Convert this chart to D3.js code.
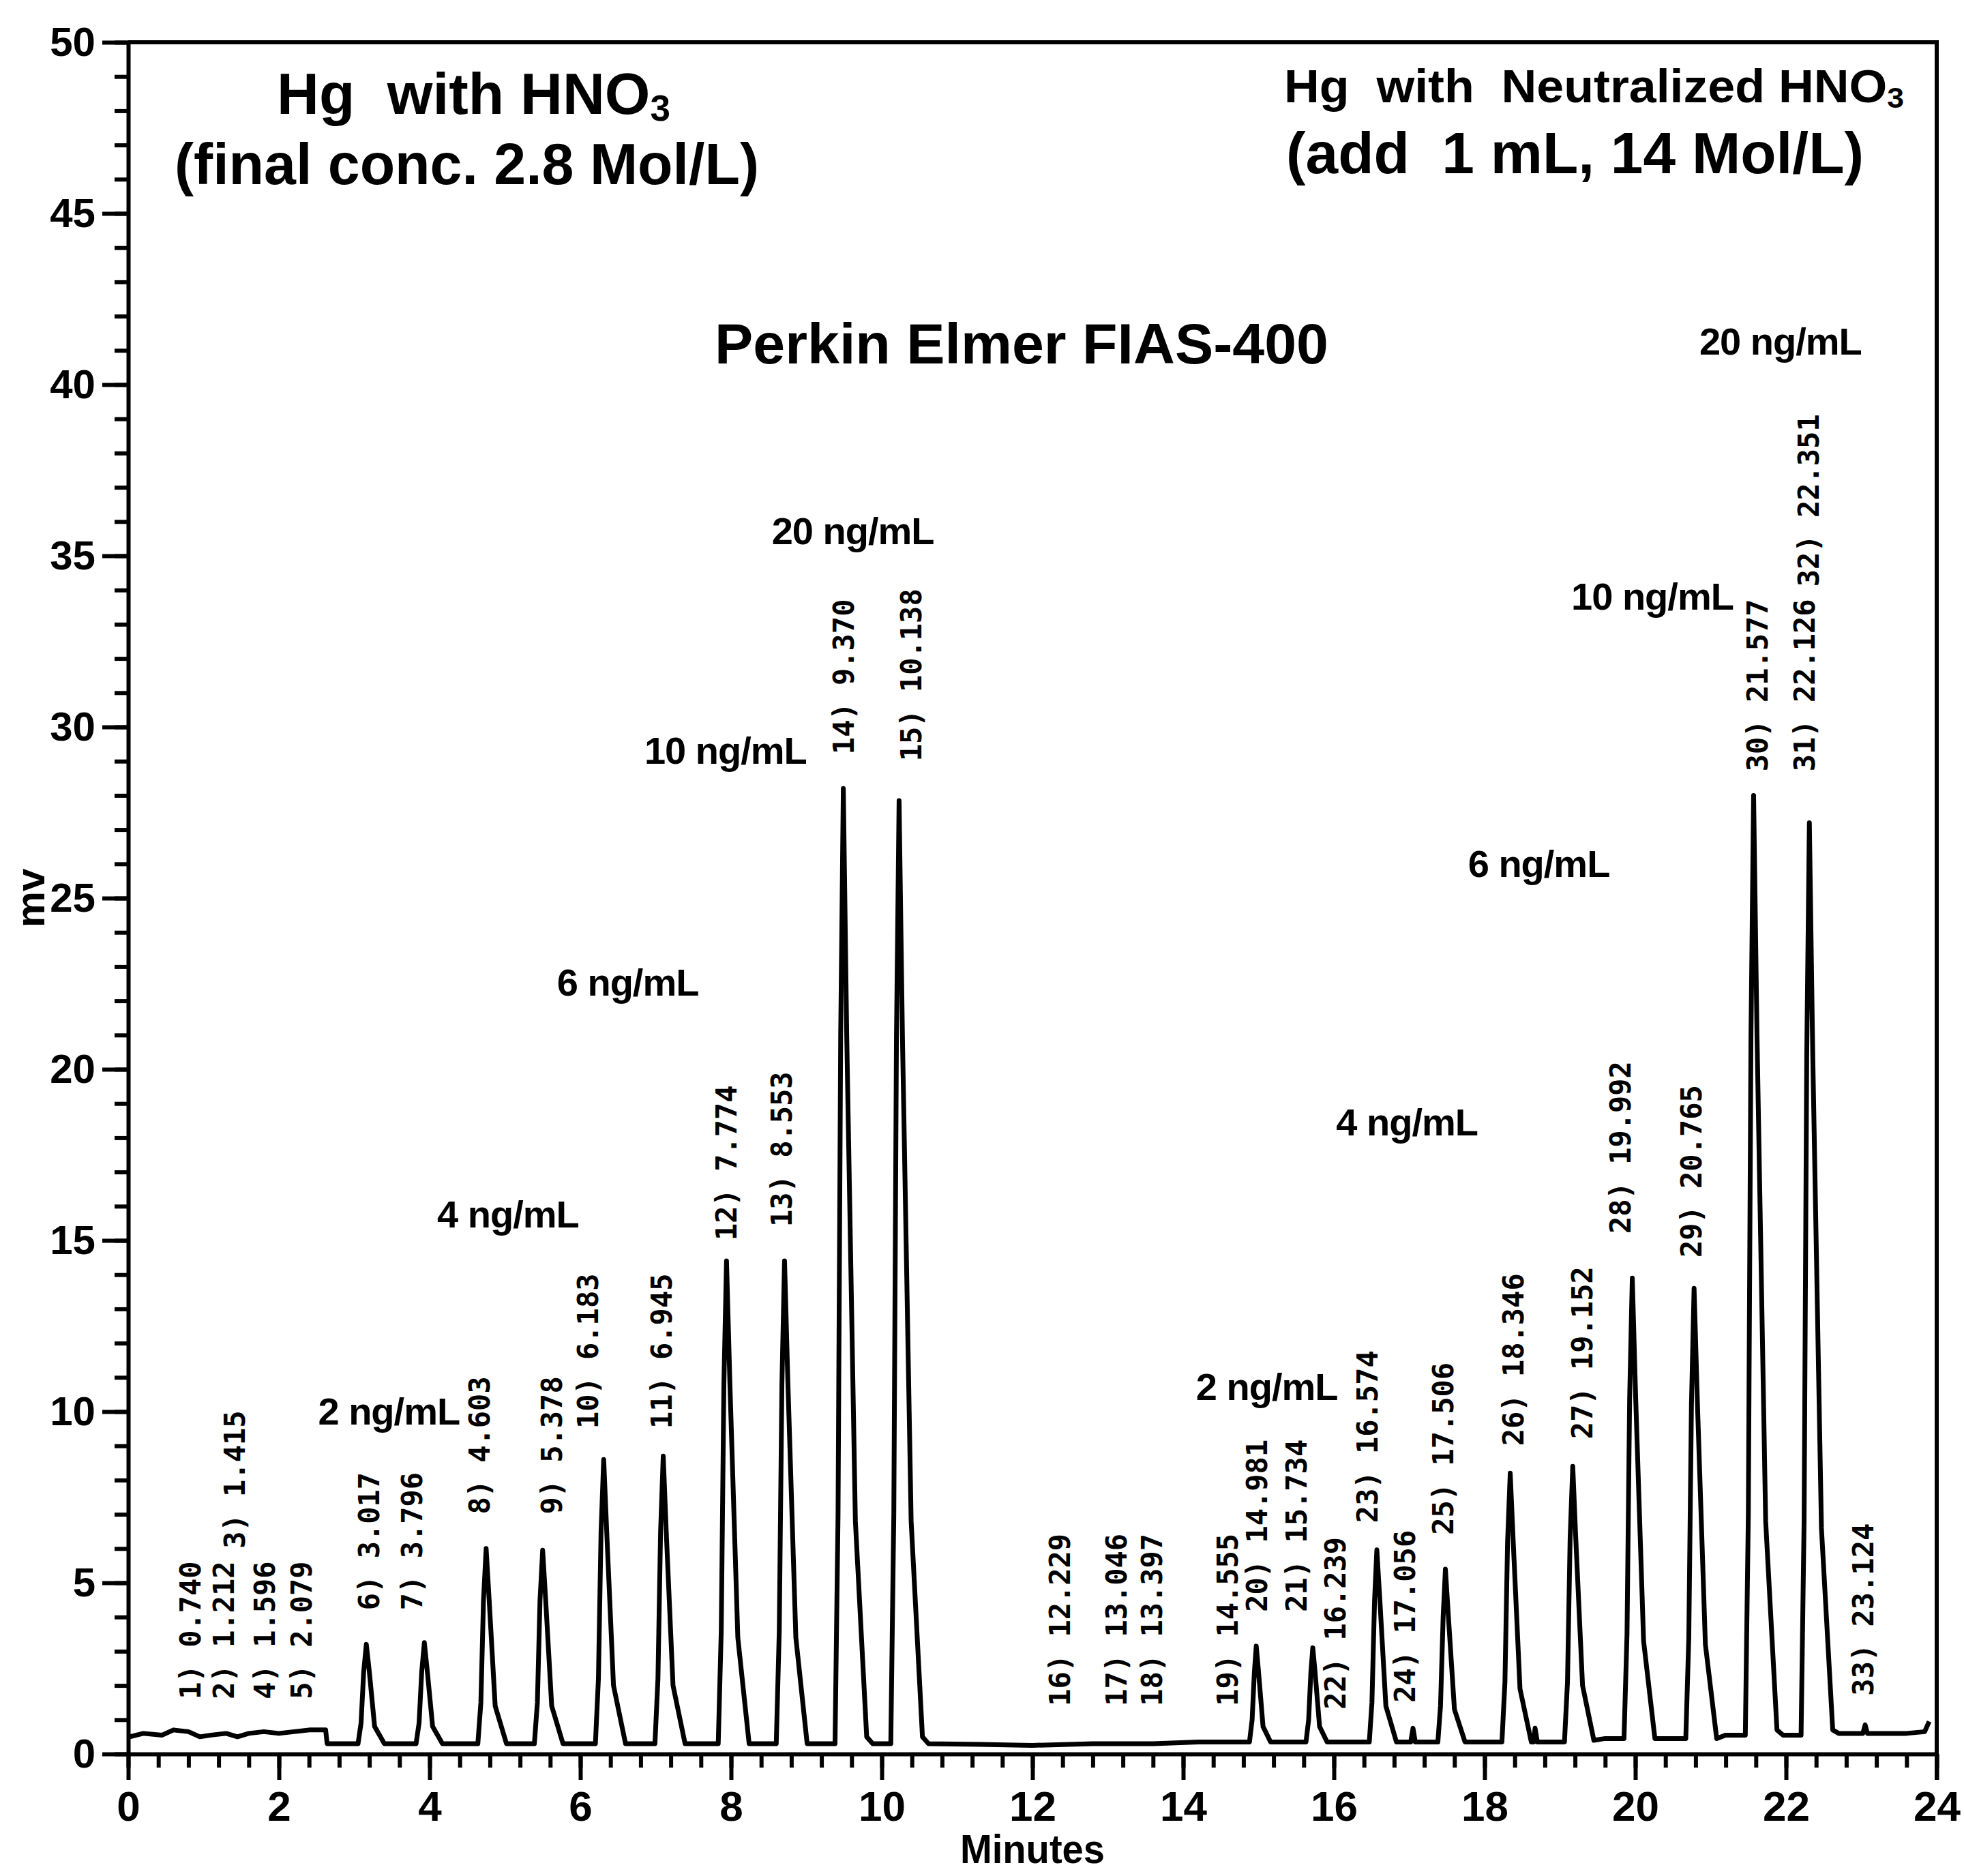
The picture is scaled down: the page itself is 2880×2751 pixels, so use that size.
<!DOCTYPE html>
<html>
<head>
<meta charset="utf-8">
<script src="https://cdn.jsdelivr.net/npm/d3@7"></script>
<style>
  body { margin: 0; background: #fff; }
  svg { display: block; font-family: "Liberation Sans", Arial, sans-serif; }
</style>
</head>
<body>
<svg id="chart"></svg>
<script>
const width = 2880;
const height = 2751;

// axis ticks
const xTicks = [0, 2, 4, 6, 8, 10, 12, 14, 16, 18, 20, 22, 24];
const yTicks = [0, 5, 10, 15, 20, 25, 30, 35, 40, 45, 50];

// detector trace [minutes, mV]
const traceLeft = [
  [0.02,0.5],[0.2,0.6],[0.45,0.55],[0.6,0.7],[0.8,0.65],[0.95,0.5],[1.1,0.55],[1.3,0.6],
  [1.45,0.5],[1.6,0.6],[1.8,0.65],[2.0,0.6],[2.2,0.65],[2.4,0.7],[2.62,0.7],[2.64,0.3],
  [3.05,0.3],[3.09,0.9],[3.125,2.4],[3.16,3.2],[3.2,2.4],[3.27,0.8],[3.4,0.3],
  [3.82,0.3],[3.86,0.9],[3.895,2.4],[3.93,3.25],[3.97,2.4],[4.04,0.8],[4.17,0.3],
  [4.64,0.3],[4.68,1.5],[4.715,4.5],[4.75,6.0],[4.79,4.5],[4.87,1.4],[5.02,0.3],
  [5.39,0.3],[5.43,1.5],[5.465,4.5],[5.5,5.95],[5.54,4.5],[5.62,1.4],[5.77,0.3],
  [6.2,0.3],[6.24,2.2],[6.275,6.5],[6.31,8.6],[6.35,6.5],[6.44,2.0],[6.6,0.3],
  [6.99,0.3],[7.03,2.2],[7.065,6.5],[7.1,8.7],[7.14,6.5],[7.23,2.0],[7.39,0.3],
  [7.83,0.3],[7.87,3.6],[7.905,10.8],[7.94,14.4],[7.985,10.8],[8.09,3.4],[8.24,0.3],
  [8.6,0.3],[8.64,3.6],[8.675,10.8],[8.71,14.4],[8.755,10.8],[8.86,3.4],[9.01,0.3],
  [9.38,0.3],[9.42,7],[9.455,21],[9.49,28.2],[9.535,21],[9.65,6.8],[9.8,0.5],[9.88,0.3],
  [10.12,0.3],[10.16,7],[10.195,20.9],[10.23,27.85],[10.275,20.9],[10.39,6.8],[10.54,0.5],[10.62,0.3],
  [11.3,0.28],[12.0,0.25]
];
const traceRight = [
  [12.0,0.25],[12.8,0.3],[13.6,0.3],[14.2,0.35],
  [14.88,0.35],[14.915,1.0],[14.945,2.4],[14.97,3.15],[15.0,2.4],[15.06,0.8],[15.16,0.35],
  [15.63,0.35],[15.665,1.0],[15.695,2.4],[15.72,3.1],[15.75,2.4],[15.81,0.8],[15.91,0.35],
  [16.47,0.35],[16.505,1.5],[16.54,4.5],[16.57,5.96],[16.61,4.5],[16.69,1.4],[16.83,0.35],
  [17.02,0.35],[17.05,0.75],[17.08,0.35],
  [17.38,0.35],[17.415,1.4],[17.45,4.0],[17.48,5.4],[17.52,4.0],[17.6,1.3],[17.74,0.35],
  [18.23,0.35],[18.27,2.1],[18.305,6.2],[18.34,8.2],[18.38,6.2],[18.47,1.9],[18.62,0.35],
  [18.65,0.35],[18.67,0.75],[18.7,0.35],
  [19.06,0.35],[19.1,2.1],[19.135,6.3],[19.17,8.4],[19.21,6.3],[19.3,2.0],[19.45,0.4],
  [19.6,0.45],
  [19.85,0.45],[19.89,3.5],[19.925,10.4],[19.96,13.9],[20.005,10.4],[20.11,3.3],[20.26,0.45],
  [20.67,0.45],[20.71,3.4],[20.745,10.2],[20.78,13.6],[20.825,10.2],[20.93,3.2],[21.08,0.45],
  [21.2,0.55],
  [21.46,0.55],[21.5,7],[21.535,21],[21.57,28.0],[21.615,21],[21.73,6.8],[21.88,0.7],[21.96,0.55],
  [22.2,0.55],[22.24,6.8],[22.275,20.4],[22.31,27.2],[22.355,20.4],[22.47,6.6],[22.62,0.7],[22.7,0.6],
  [23.02,0.6],[23.05,0.85],[23.08,0.6],[23.6,0.6],[23.84,0.65],[23.9,0.95]
];

// integrator peak labels
const peakNo = [1,2,3,4,5,6,7,8,9,10,11,12,13,14,15,16,17,18,19,20,21,22,23,24,25,26,27,28,29,30,31,32,33];
const retTimes = ["0.740","1.212","1.415","1.596","2.079","3.017","3.796","4.603","5.378","6.183","6.945",
  "7.774","8.553","9.370","10.138","12.229","13.046","13.397","14.555","14.981","15.734","16.239",
  "16.574","17.056","17.506","18.346","19.152","19.992","20.765","21.577","22.126","22.351","23.124"];
const labelTime = [0.82,1.27,1.41,1.81,2.30,3.19,3.76,4.66,5.62,6.10,7.08,7.94,8.67,9.49,10.39,
  12.36,13.11,13.58,14.59,14.98,15.50,16.02,16.44,16.94,17.45,18.38,19.29,19.80,20.74,21.62,22.24,22.30,23.02];
const labelBase = [1.6,1.6,6.0,1.6,1.6,4.2,4.2,7.0,7.0,9.5,9.5,15.0,15.4,29.2,29.0,
  1.4,1.4,1.4,1.4,4.15,4.15,1.3,6.75,1.5,6.4,9.0,9.2,15.2,14.5,28.7,28.7,34.1,1.7];

// standard concentrations
const concText = ["2 ng/mL", "4 ng/mL", "6 ng/mL", "10 ng/mL", "20 ng/mL"];
const concLeftTime = [2.52, 4.1, 5.69, 6.85, 8.54];
const concLeftMv = [9.62, 15.38, 22.15, 28.92, 35.34];
const concRightTime = [14.17, 16.03, 17.78, 19.15, 20.85];
const concRightMv = [10.34, 18.07, 25.62, 33.43, 40.88];

const svg = d3.select("#chart")
  .attr("width", width)
  .attr("height", height);

svg.append("rect").attr("width", width).attr("height", height).attr("fill", "#fff");

const x = d3.scaleLinear().domain([0, 24]).range([188, 2840]);
const y = d3.scaleLinear().domain([0, 50]).range([2572, 62]);

function styleAxis(g) {
  g.attr("font-family", "'Liberation Sans', Arial, sans-serif")
   .attr("font-size", 60)
   .attr("font-weight", "bold");
  g.selectAll("line").attr("stroke", "#000").attr("stroke-width", 6);
  g.select(".domain").attr("stroke", "#000").attr("stroke-width", 6);
}

// x axis: minor every 0.4 min, major every 2
svg.append("g")
  .attr("transform", `translate(0,${y(0)})`)
  .call(d3.axisBottom(x).tickValues(d3.range(0, 24.01, 0.4)).tickSize(20).tickFormat(""))
  .call(g => g.select(".domain").remove())
  .call(styleAxis);
svg.append("g")
  .attr("transform", `translate(0,${y(0)})`)
  .call(d3.axisBottom(x).tickValues(xTicks).tickSize(38).tickSizeOuter(0).tickPadding(16))
  .call(styleAxis)
  .call(g => g.selectAll("text").attr("font-size", 62));

// y axis: minor every 1 mV, major every 5
svg.append("g")
  .attr("transform", `translate(${x(0)},0)`)
  .call(d3.axisLeft(y).tickValues(d3.range(0, 50.01, 1)).tickSize(20).tickFormat(""))
  .call(g => g.select(".domain").remove())
  .call(styleAxis);
svg.append("g")
  .attr("transform", `translate(${x(0)},0)`)
  .call(d3.axisLeft(y).tickValues(yTicks).tickSize(38).tickSizeOuter(0).tickPadding(10))
  .call(styleAxis);

// frame top and right
svg.append("path")
  .attr("d", `M${x(0)},${y(50)}H${x(24)}V${y(0) + 38}`)
  .attr("fill", "none")
  .attr("stroke", "#000")
  .attr("stroke-width", 6);

// trace
const line = d3.line().x(d => x(d[0])).y(d => y(d[1]));
svg.selectAll(".trace")
  .data([traceLeft, traceRight])
  .join("path")
    .classed("trace", true)
    .attr("d", line)
    .attr("fill", "none")
    .attr("stroke", "#000")
    .attr("stroke-width", 7)
    .attr("stroke-linejoin", "round");

// peak labels, rotated
svg.append("g")
  .selectAll("text")
  .data(peakNo)
  .join("text")
    .attr("transform", (d, i) => `translate(${x(labelTime[i])},${y(labelBase[i])}) rotate(-90)`)
    .attr("dy", "0.36em")
    .style("font-family", "'DejaVu Sans Mono', monospace")
    .style("font-weight", "bold")
    .style("font-size", "42px")
    .text((d, i) => `${d}) ${retTimes[i]}`);

// concentration labels
const concG = svg.append("g")
  .style("font-weight", "bold")
  .style("font-size", "56px")
  .style("letter-spacing", "-1px");
concG.selectAll(".cl")
  .data(concText)
  .join("text")
    .attr("x", (d, i) => x(concLeftTime[i]))
    .attr("y", (d, i) => y(concLeftMv[i]))
    .text(d => d);
concG.selectAll(".cr")
  .data(concText)
  .join("text")
    .attr("x", (d, i) => x(concRightTime[i]))
    .attr("y", (d, i) => y(concRightMv[i]))
    .text(d => d);

// headings
function heading(tx, ty, size, parts, len) {
  const t = svg.append("text")
    .attr("x", tx)
    .attr("y", ty)
    .style("font-weight", "bold")
    .style("font-size", size + "px")
    .style("white-space", "pre");
  parts.forEach(p => {
    if (p.sub) {
      t.append("tspan").attr("dy", "0.18em").style("font-size", "0.62em").text(p.text);
    } else {
      t.append("tspan").text(p.text);
    }
  });
  if (len) t.attr("textLength", len).attr("lengthAdjust", "spacingAndGlyphs");
  return t;
}

heading(406, 167, 86, [{text: "Hg  with HNO"}, {text: "3", sub: true}], 577);
heading(256, 270, 86, [{text: "(final conc. 2.8 Mol/L)"}], 857);
heading(1883, 150, 68, [{text: "Hg  with  Neutralized HNO"}, {text: "3", sub: true}], 909);
heading(1886, 254, 86, [{text: "(add  1 mL, 14 Mol/L)"}], 847);
heading(1048, 533, 84, [{text: "Perkin Elmer FIAS-400"}], 900);

// axis titles
svg.append("text")
  .attr("x", x(12))
  .attr("y", 2732)
  .attr("text-anchor", "middle")
  .attr("textLength", 212)
  .attr("lengthAdjust", "spacingAndGlyphs")
  .style("font-weight", "bold")
  .style("font-size", "60px")
  .text("Minutes");

svg.append("text")
  .attr("transform", `translate(65,${y(25)}) rotate(-90)`)
  .attr("text-anchor", "middle")
  .style("font-weight", "bold")
  .style("font-size", "60px")
  .text("mv");
</script>
</body>
</html>
